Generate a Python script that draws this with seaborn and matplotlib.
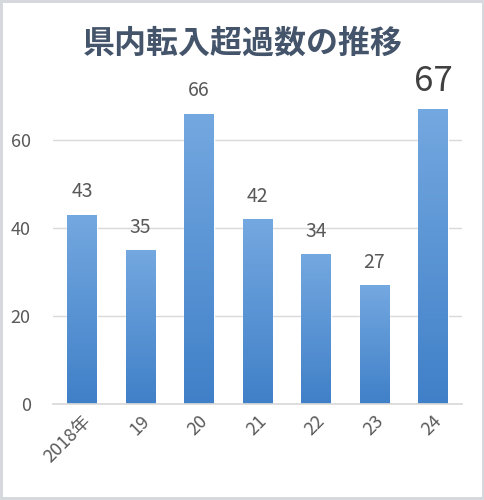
import numpy as np
import pandas as pd
import matplotlib
matplotlib.use("Agg")
import matplotlib.pyplot as plt
import seaborn as sns
from matplotlib.colors import LinearSegmentedColormap

# data
years = ["2018年", "19", "20", "21", "22", "23", "24"]
values = [43, 35, 66, 42, 34, 27, 67]

sns.set_theme(style="white")
plt.rcParams['font.family'] = ['Noto Sans CJK JP', 'DejaVu Sans']

text_grey = "#595959"
df = pd.DataFrame({"year": years, "value": values})

fig = plt.figure(figsize=(4.85, 5.0), dpi=100)
fig.patch.set_edgecolor("#d5d8dc")
fig.patch.set_linewidth(4)
ax = fig.add_axes([0.109, 0.192, 0.844, 0.66])

sns.barplot(data=df, x="year", y="value", color="#5b9bd5", width=0.5, ax=ax)

# vertical gradient fill for each bar
cmap = LinearSegmentedColormap.from_list("bar", ["#4080c8", "#74a8e0"])
grad = np.linspace(0, 1, 256).reshape(-1, 1)
for p in ax.patches:
    x0, y0 = p.get_x(), p.get_y()
    w, h = p.get_width(), p.get_height()
    im = ax.imshow(grad, cmap=cmap, origin="lower", aspect="auto",
                   extent=[x0, x0 + w, y0, y0 + h], zorder=p.get_zorder())
    im.set_clip_path(p)
ax.set_xlim(-0.5, len(years) - 0.5)
ax.set_ylim(0, 75)

# value labels, last one emphasised
for i, v in enumerate(values):
    big = i == len(values) - 1
    ax.text(i, v + (2.3 if big else 2.8), str(v), ha="center", va="bottom",
            fontsize=25 if big else 14, color="#404040" if big else text_grey)

ax.set_yticks([0, 20, 40, 60])
ax.yaxis.grid(True, color="#d9d9d9", linewidth=1)
ax.set_axisbelow(True)
for s in ["top", "right", "left"]:
    ax.spines[s].set_visible(False)
ax.spines["bottom"].set_color("#d9d9d9")
ax.tick_params(axis="y", length=0, labelsize=13, labelcolor=text_grey, pad=16)
ax.tick_params(axis="x", length=0, labelsize=13, labelcolor=text_grey, pad=6)
plt.setp(ax.get_xticklabels(), rotation=45, ha="right", rotation_mode="anchor")
ax.set_xlabel("")
ax.set_ylabel("")

fig.text(0.5, 0.912, "県内転入超過数の推移", ha="center", va="center",
         fontsize=23, fontweight="bold", color="#44546a")

fig.savefig("out.png", dpi=100)
